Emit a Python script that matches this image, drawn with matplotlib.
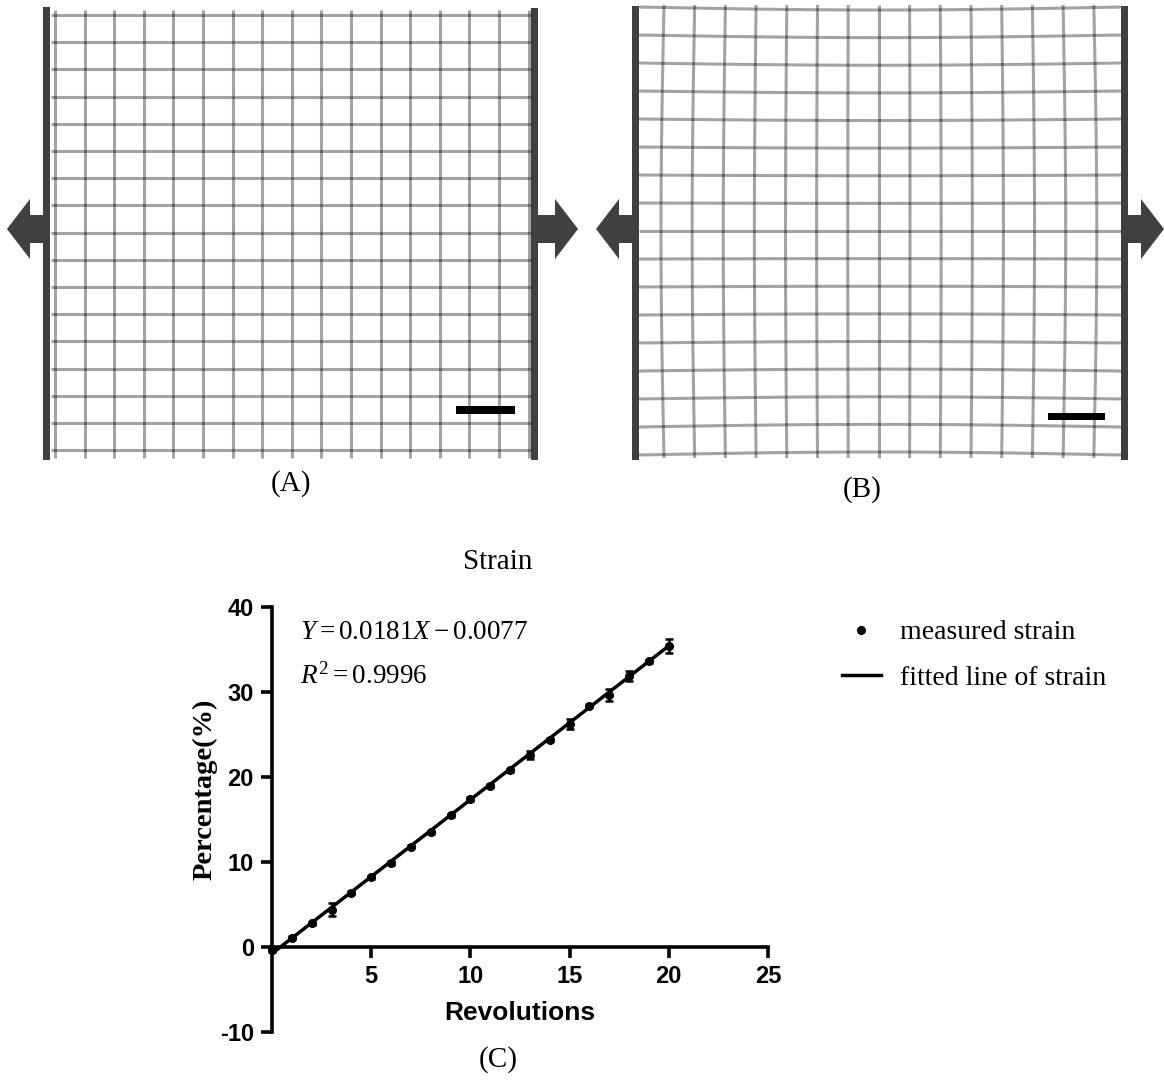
import matplotlib.pyplot as plt
import numpy as np
from matplotlib.patches import Polygon, Rectangle
from matplotlib.lines import Line2D

plt.rcParams['mathtext.fontset'] = 'custom'
plt.rcParams['mathtext.rm'] = 'Liberation Serif'
plt.rcParams['mathtext.it'] = 'Liberation Serif:italic'
plt.rcParams['axes.unicode_minus'] = False

SERIF = 'Liberation Serif'
SANS = 'Liberation Sans'
WALL = '#404040'

# measured strain, panel (C)
revolutions = [0, 1, 2, 3, 4, 5, 6, 7, 8, 9, 10,
               11, 12, 13, 14, 15, 16, 17, 18, 19, 20]
strain = [-0.4, 1.1, 2.8, 4.4, 6.4, 8.2, 9.9, 11.8, 13.5, 15.5, 17.4,
          19.0, 20.8, 22.6, 24.4, 26.2, 28.4, 29.7, 31.9, 33.6, 35.4]
strain_err = [0.2, 0.2, 0.2, 0.8, 0.2, 0.2, 0.2, 0.2, 0.2, 0.2, 0.2,
              0.2, 0.2, 0.5, 0.2, 0.6, 0.2, 0.7, 0.6, 0.2, 0.8]
slope = 1.81      # 0.0181 in fraction -> percent
intercept = -0.77

x_ticks = [5, 10, 15, 20, 25]
y_ticks = [-10, 0, 10, 20, 30, 40]

# grid panels (pixel layout of the figure)
grid_a_cols = 17
grid_a_rows = 17
grid_b_cols = 15
grid_b_rows = 17


def draw_grid(ax, x0, dx, ncol, y0, dy, nrow, xspan, yspan, bow=0.0):
    t = np.linspace(0, 1, 80)
    xs = x0 + dx * np.arange(ncol)
    ys = y0 + dy * np.arange(nrow)
    mx, hw = (xs[0] + xs[-1]) / 2, (xs[-1] - xs[0]) / 2
    my, hh = (ys[0] + ys[-1]) / 2, (ys[-1] - ys[0]) / 2
    for x in xs:
        yy = yspan[0] + t * (yspan[1] - yspan[0])
        off = bow * (x - mx) / hw * np.sin(np.pi * t)
        ax.plot(x + off, yy, color='k', alpha=0.36, lw=2.2, solid_capstyle='butt')
    for y in ys:
        xx = xspan[0] + t * (xspan[1] - xspan[0])
        off = -bow * (y - my) / hh * np.sin(np.pi * t)
        ax.plot(xx, y + off, color='k', alpha=0.36, lw=2.2, solid_capstyle='butt')


def arrow(ax, tip, base, end, cy, head=30, shaft=14):
    pts = [(tip, cy), (base, cy - head), (base, cy - shaft), (end, cy - shaft),
           (end, cy + shaft), (base, cy + shaft), (base, cy + head)]
    ax.add_patch(Polygon(pts, closed=True, color=WALL, lw=0))


def wall(ax, x, top, bottom, w=7):
    ax.add_patch(Rectangle((x, top), w, bottom - top, color=WALL, lw=0))


fig = plt.figure(figsize=(11.64, 10.8), dpi=100)

canvas = fig.add_axes([0, 0, 1, 1])
canvas.set_xlim(0, 1164)
canvas.set_ylim(1080, 0)
canvas.axis('off')

# (A) unstretched grid
draw_grid(canvas, 55, 29.6, grid_a_cols, 15, 27.2, grid_a_rows, (51, 531), (10, 458))
wall(canvas, 43, 7, 460)
wall(canvas, 531, 8, 460)
arrow(canvas, 7, 30, 44, 229)
arrow(canvas, 578, 555, 537, 229)
canvas.add_patch(Rectangle((456, 406), 59, 8, color='k', lw=0))

# (B) stretched grid
draw_grid(canvas, 664, 30.7, grid_b_cols, 7, 28.0, grid_b_rows, (639, 1121), (5, 458), bow=3.0)
wall(canvas, 632, 6, 460)
wall(canvas, 1121, 6, 460)
arrow(canvas, 596, 619, 633, 229)
arrow(canvas, 1164, 1141, 1127, 229)
canvas.add_patch(Rectangle((1048, 413), 57, 7, color='k', lw=0))

fig.text(291 / 1164, 1 - 484 / 1080, '(A)', ha='center', va='center', family=SERIF, size=21)
fig.text(862 / 1164, 1 - 490 / 1080, '(B)', ha='center', va='center', family=SERIF, size=21)
fig.text(498 / 1164, 1 - 562 / 1080, 'Strain', ha='center', va='center', family=SERIF, size=21)
fig.text(498 / 1164, 1 - 1060 / 1080, '(C)', ha='center', va='center', family=SERIF, size=21)

# (C) strain vs revolutions
ax = fig.add_axes([272 / 1164, 1 - 1032 / 1080, 496 / 1164, 425 / 1080])
ax.set_xlim(0, 25)
ax.set_ylim(-10, 40)
ax.spines[['top', 'right']].set_visible(False)
ax.spines['bottom'].set_position(('data', 0))
ax.spines['left'].set_linewidth(2.6)
ax.spines['bottom'].set_linewidth(2.6)
ax.tick_params(width=2.6, length=8, direction='out', pad=5)
ax.set_xticks(x_ticks)
ax.set_yticks(y_ticks)
for lab in ax.get_xticklabels() + ax.get_yticklabels():
    lab.set_family(SANS)
    lab.set_weight('bold')
    lab.set_size(17)

fit_x = np.array([revolutions[0], revolutions[-1]])
ax.plot(fit_x, slope * fit_x + intercept, color='k', lw=2.5, clip_on=False, zorder=3)
ax.errorbar(revolutions, strain, yerr=strain_err, fmt='o', ms=5.5, color='k',
            ecolor='k', elinewidth=1.8, capsize=3, capthick=1.8, clip_on=False, zorder=4)

fig.text(520 / 1164, 1 - 1013 / 1080, 'Revolutions', ha='center', va='center',
         family=SANS, weight='bold', size=19)
fig.text(205 / 1164, 1 - 789 / 1080, 'Percentage(%)', ha='center', va='center',
         rotation=90, family=SERIF, weight='bold', size=20.5)

fig.text(300 / 1164, 1 - 632 / 1080, r'$Y = 0.0181X - 0.0077$', ha='left', va='center', size=19.5)
fig.text(300 / 1164, 1 - 676 / 1080, r'$R^2 = 0.9996$', ha='left', va='center', size=19.5)

handles = [Line2D([], [], marker='o', ls='none', color='k', ms=5.5),
           Line2D([], [], color='k', lw=2.5)]
fig.legend(handles, ['measured strain', 'fitted line of strain'], loc='upper left',
           bbox_to_anchor=(842 / 1164, 1 - 620 / 1080), frameon=False,
           prop=dict(family=SERIF, size=20), handlelength=1.4, handletextpad=0.7,
           labelspacing=0.72, borderaxespad=0, borderpad=0)

fig.savefig('out.png', dpi=100)
